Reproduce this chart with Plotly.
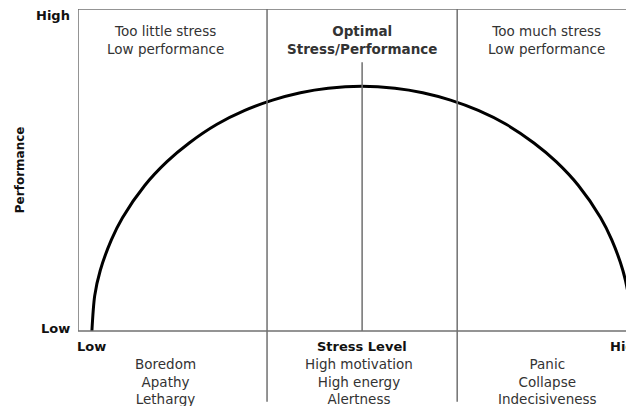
import plotly.graph_objects as go

# Curve (stress level 0-100, performance 0-100)
stress = [2.5, 3, 4, 6, 8, 12, 16, 20, 25, 30, 35, 40, 45, 51, 57, 62, 67, 72, 77, 82, 86, 90, 94, 96, 98, 99, 99.5]
performance = [0, 10.9, 18.8, 28.3, 35.2, 45.2, 52.6, 58.4, 64.2, 68.5, 71.7, 74.0, 75.4, 76, 75.4, 74.0, 71.7, 68.5, 64.2, 58.4, 52.6, 45.2, 35.2, 28.3, 18.8, 10.9, 0]

zone_bounds = [34.0, 68.2]
optimal_x = 51.1
optimal_top = 83.5

zone_centers = [15.8, 51.1, 84.2]
top_labels = ["Too little stress<br>Low performance", "<b>Optimal<br>Stress/Performance</b>", "Too much stress<br>Low performance"]
bottom_centers = [15.8, 50.5, 84.4]
bottom_labels = ["Boredom<br>Apathy<br>Lethargy", "High motivation<br>High energy<br>Alertness", "Panic<br>Collapse<br>Indecisiveness"]

FONT = "DejaVu Sans"
AX = "#707070"

fig = go.Figure()
fig.add_trace(go.Scatter(x=stress, y=performance, mode="lines",
                         line=dict(color="black", width=3, shape="spline", smoothing=0.8),
                         cliponaxis=False, hoverinfo="skip", showlegend=False))

shapes = []
# axes and top border
shapes.append(dict(type="line", xref="x", yref="y", x0=0, x1=0, y0=0, y1=100, line=dict(color=AX, width=1.5)))
shapes.append(dict(type="line", xref="x", yref="y", x0=0, x1=100, y0=0, y1=0, line=dict(color=AX, width=1.5)))
shapes.append(dict(type="line", xref="x", yref="y", x0=0, x1=100, y0=100, y1=100, line=dict(color=AX, width=1.5)))
for b in zone_bounds:
    shapes.append(dict(type="line", xref="x", yref="y", x0=b, x1=b, y0=100, y1=-22, line=dict(color=AX, width=1.5)))
shapes.append(dict(type="line", xref="x", yref="y", x0=optimal_x, x1=optimal_x, y0=0, y1=optimal_top, line=dict(color=AX, width=1.5)))

ann = []
for cx, t in zip(zone_centers, top_labels):
    ann.append(dict(x=cx, y=90.4, text=t, showarrow=False, xanchor="center", yanchor="middle",
                    font=dict(family=FONT, size=13.5, color="#333")))
for cx, t in zip(bottom_centers, bottom_labels):
    ann.append(dict(x=cx, y=-15.8, text=t, showarrow=False, xanchor="center", yanchor="middle",
                    font=dict(family=FONT, size=13.5, color="#333")))
bold = dict(family=FONT, size=13, color="#111")
# x axis is 0..100 over the full domain, so paper x = value / 100
ann.append(dict(xref="paper", x=-0.010, y=98.1, text="<b>High</b>", showarrow=False, xanchor="right", yanchor="middle", font=bold))
ann.append(dict(xref="paper", x=-0.010, y=0.9, text="<b>Low</b>", showarrow=False, xanchor="right", yanchor="middle", font=bold))
ann.append(dict(xref="paper", x=-0.005, y=-4.7, text="<b>Low</b>", showarrow=False, xanchor="left", yanchor="middle", font=bold))
ann.append(dict(x=51.1, y=-4.7, text="<b>Stress Level</b>", showarrow=False, xanchor="center", yanchor="middle", font=bold))
ann.append(dict(x=95.3, y=-4.7, text="<b>High</b>", showarrow=False, xanchor="left", yanchor="middle", font=bold))
ann.append(dict(xref="paper", x=-0.104, y=50, text="<b>Performance</b>", showarrow=False, textangle=-90,
                xanchor="center", yanchor="middle", font=dict(family=FONT, size=12, color="#111")))

# the page body has an 8px margin, so the figure is 8px smaller and shifted
fig.update_layout(
    width=626, height=398,
    margin=dict(l=70, r=0, t=1, b=4),
    paper_bgcolor="white", plot_bgcolor="white",
    xaxis=dict(range=[0, 100], visible=False, fixedrange=True),
    yaxis=dict(range=[-22.05, 100], visible=False, fixedrange=True),
    shapes=shapes, annotations=ann, showlegend=False,
)
fig.write_html("out.html")
